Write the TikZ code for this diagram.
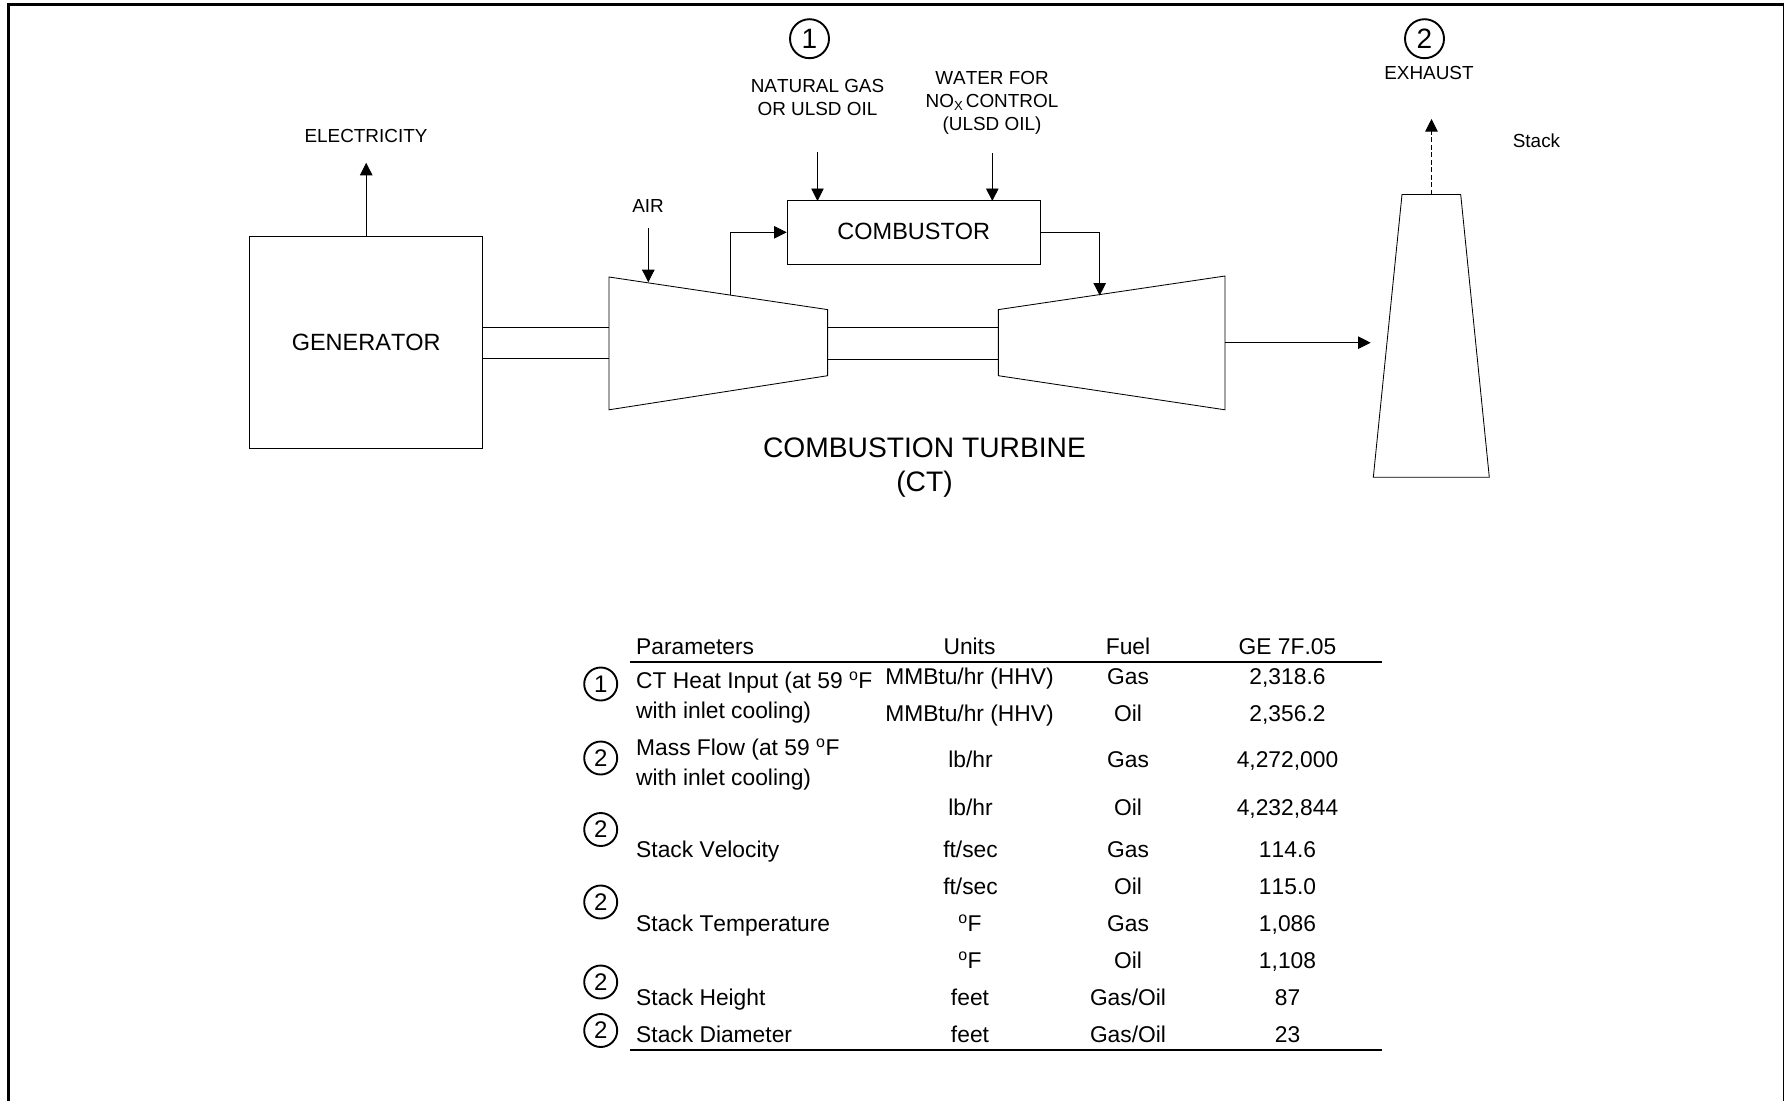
\documentclass[tikz,border=0pt]{standalone}
\usepackage{fontspec}
\setmainfont[Kerning=Off]{Liberation Sans}
\usetikzlibrary{arrows.meta}
\tikzset{
  ln/.style={line width=0.85pt,black},
  flow/.style={ln,-{Triangle[length=12.5pt,width=12.5pt]}},
  outl/.style={ln,line join=miter},
  lbl/.style={inner sep=0pt,font=\fontsize{18.9pt}{23pt}\selectfont,align=center},
  ctlbl/.style={inner sep=0pt,font=\fontsize{28.2pt}{34.5pt}\selectfont,align=center},
  cell/.style={inner sep=0pt,anchor=base,font=\fontsize{22.8pt}{27pt}\selectfont},
  lcell/.style={cell,anchor=base west},
  circA/.style={circle,draw,line width=1.9pt,minimum size=39pt,inner sep=0pt,font=\fontsize{28pt}{32pt}\selectfont},
  circB/.style={circle,draw,line width=1.9pt,minimum size=33pt,inner sep=0pt,font=\fontsize{24pt}{28pt}\selectfont},
  rulefrm/.style={line width=3pt,black},
  tblrule/.style={line width=2.2pt,black}
}
\begin{document}
\begin{tikzpicture}[x=1pt,y=-1pt]
\useasboundingbox (0,0) rectangle (1785,1101);
% frame
\coordinate (fa) at (8.5,1101);
\coordinate (fb) at (8.5,4.5);
\coordinate (fc) at (1783.5,4.5);
\coordinate (fd) at (1783.5,1101);
\draw[rulefrm] (fa) -- (fb) -- (fc);
\draw[line width=1.2pt] (fc) -- (fd);
% generator
\node[draw,ln,minimum width=232.8pt,minimum height=212pt,inner sep=0pt,font=\fontsize{23.5pt}{28pt}\selectfont] (gen) at (366.2,342.7) {GENERATOR};
% shape corners
\coordinate (c1) at (609,277);
\coordinate (c2) at (827.6,309.6);
\coordinate (c3) at (827.6,375.7);
\coordinate (c4) at (609,409.8);
\coordinate (t1) at (998.4,309.6);
\coordinate (t2) at (1225,276);
\coordinate (t3) at (1225,409.8);
\coordinate (t4) at (998.4,375.7);
\draw[outl] (c1) -- (c2) -- (c3) -- (c4) -- cycle;
\draw[outl] (t1) -- (t2) -- (t3) -- (t4) -- cycle;
% shafts
\coordinate (sa1) at (482.6,327);
\coordinate (sa2) at (609,327);
\coordinate (sa3) at (482.6,358.8);
\coordinate (sa4) at (609,358.8);
\coordinate (sb1) at (827.6,327.9);
\coordinate (sb2) at (998.4,327.9);
\coordinate (sb3) at (827.6,359.7);
\coordinate (sb4) at (998.4,359.7);
\draw[ln] (sa1) -- (sa2) (sa3) -- (sa4) (sb1) -- (sb2) (sb3) -- (sb4);
% combustor
\node[draw,ln,minimum width=253.5pt,minimum height=64pt,inner sep=0pt,font=\fontsize{23.5pt}{28pt}\selectfont,text depth=0pt] (comb) at (913.8,232.3) {\raisebox{2pt}{COMBUSTOR}};
% stack
\coordinate (s1) at (1402,194.5);
\coordinate (s2) at (1460.7,194.5);
\coordinate (s3) at (1489.3,477.3);
\coordinate (s4) at (1373.3,477.3);
\draw[outl] (s1) -- (s2) -- (s3) -- (s4) -- cycle;
% labels
\node[lbl] (elec) at (366,135.5) {ELECTRICITY};
\node[lbl] (air) at (648,205.5) {AIR};
\node[lbl] (ng) at (817.5,97.5) {NATURAL GAS\\OR ULSD OIL};
\node[lbl] (wat) at (992,103) {WATER FOR\\NO\textsubscript{X}\hspace{2.5pt}CONTROL\\(ULSD OIL)};
\node[lbl] (exh) at (1429,73) {EXHAUST};
\node[lbl] (stk) at (1536.5,141) {Stack};
\node[ctlbl] (ct) at (924.5,467.5) {COMBUSTION TURBINE\\(CT)};
\node[circA] (n1) at (809.5,38.7) {1};
\node[circA] (n2) at (1424.5,38.7) {2};
% arrows
\coordinate (ngs) at (817.5,152);
\coordinate (ngt) at (817.5,201);
\coordinate (ws) at (992.3,153);
\coordinate (wt) at (992.3,201);
\draw[flow] (ngs) -- (ngt);
\draw[flow] (ws) -- (wt);
\coordinate (ao) at (730,294.7);
\coordinate (ak) at (730,232.3);
\draw[flow] (ao) -- (ak) -- (comb.west);
\coordinate (bk) at (1099.7,232.3);
\coordinate (bt) at (1099.7,295.5);
\draw[flow] (comb.east) -- (bk) -- (bt);
\coordinate (as) at (648.3,227.7);
\coordinate (at) at (648.3,282.2);
\draw[flow] (as) -- (at);
\coordinate (es) at (366.2,236.8);
\coordinate (et) at (366.2,162.8);
\draw[flow] (es) -- (et);
\coordinate (xs) at (1225,342.7);
\coordinate (xt) at (1370.6,342.7);
\draw[flow] (xs) -- (xt);
\coordinate (ds) at (1431.5,194.5);
\coordinate (dm) at (1431.5,132.2);
\coordinate (dt) at (1431.5,119);
\draw[ln,dash pattern=on 5pt off 2.5pt] (ds) -- (dm);
\draw[flow] (dm) -- (dt);
% table rules
\coordinate (r1) at (630,661.7);
\coordinate (r2) at (1382,661.7);
\coordinate (r3) at (630,1049.6);
\coordinate (r4) at (1382,1049.6);
\draw[tblrule] (r1) -- (r2);
\draw[tblrule] (r3) -- (r4);
% table circles
\node[circB] (k1) at (600.7,684) {1};
\node[circB] (k2) at (600.7,758) {2};
\node[circB] (k3) at (600.7,829.5) {2};
\node[circB] (k4) at (600.7,902) {2};
\node[circB] (k5) at (600.7,982) {2};
\node[circB] (k6) at (600.7,1030.5) {2};
% header
\node[lcell] (h1) at (636,654) {Parameters};
\node[cell] (h2) at (969.5,654) {Units};
\node[cell] (h3) at (1128,654) {Fuel};
\node[cell] (h4) at (1287.5,654) {GE 7F.05};
% left column
\node[lcell] (p1a) at (636,688) {CT Heat Input (at 59 \textsuperscript{o}F};
\node[lcell] (p1b) at (636,718) {with inlet cooling)};
\node[lcell] (p2a) at (636,755) {Mass Flow (at 59 \textsuperscript{o}F};
\node[lcell] (p2b) at (636,785.5) {with inlet cooling)};
\node[lcell] (p3) at (636,857) {Stack Velocity};
\node[lcell] (p4) at (636,931) {Stack Temperature};
\node[lcell] (p5) at (636,1005) {Stack Height};
\node[lcell] (p6) at (636,1042) {Stack Diameter};
% rows
\node[cell] (u1) at (969.5,684) {MMBtu/hr (HHV)};
\node[cell] (f1) at (1128,684) {Gas};
\node[cell] (v1) at (1287.5,684) {2,318.6};
\node[cell] (u2) at (969.5,721) {MMBtu/hr (HHV)};
\node[cell] (f2) at (1128,721) {Oil};
\node[cell] (v2) at (1287.5,721) {2,356.2};
\node[cell] (u3) at (970.5,767) {lb/hr};
\node[cell] (f3) at (1128,767) {Gas};
\node[cell] (v3) at (1287.5,767) {4,272,000};
\node[cell] (u4) at (970.5,815) {lb/hr};
\node[cell] (f4) at (1128,815) {Oil};
\node[cell] (v4) at (1287.5,815) {4,232,844};
\node[cell] (u5) at (970.5,857) {ft/sec};
\node[cell] (f5) at (1128,857) {Gas};
\node[cell] (v5) at (1287.5,857) {114.6};
\node[cell] (u6) at (970.5,894) {ft/sec};
\node[cell] (f6) at (1128,894) {Oil};
\node[cell] (v6) at (1287.5,894) {115.0};
\node[cell] (u7) at (970,931) {\textsuperscript{o}F};
\node[cell] (f7) at (1128,931) {Gas};
\node[cell] (v7) at (1287.5,931) {1,086};
\node[cell] (u8) at (970,968) {\textsuperscript{o}F};
\node[cell] (f8) at (1128,968) {Oil};
\node[cell] (v8) at (1287.5,968) {1,108};
\node[cell] (u9) at (970,1005) {feet};
\node[cell] (f9) at (1128,1005) {Gas/Oil};
\node[cell] (v9) at (1287.5,1005) {87};
\node[cell] (u10) at (970,1042) {feet};
\node[cell] (f10) at (1128,1042) {Gas/Oil};
\node[cell] (v10) at (1287.5,1042) {23};
\end{tikzpicture}
\end{document}
